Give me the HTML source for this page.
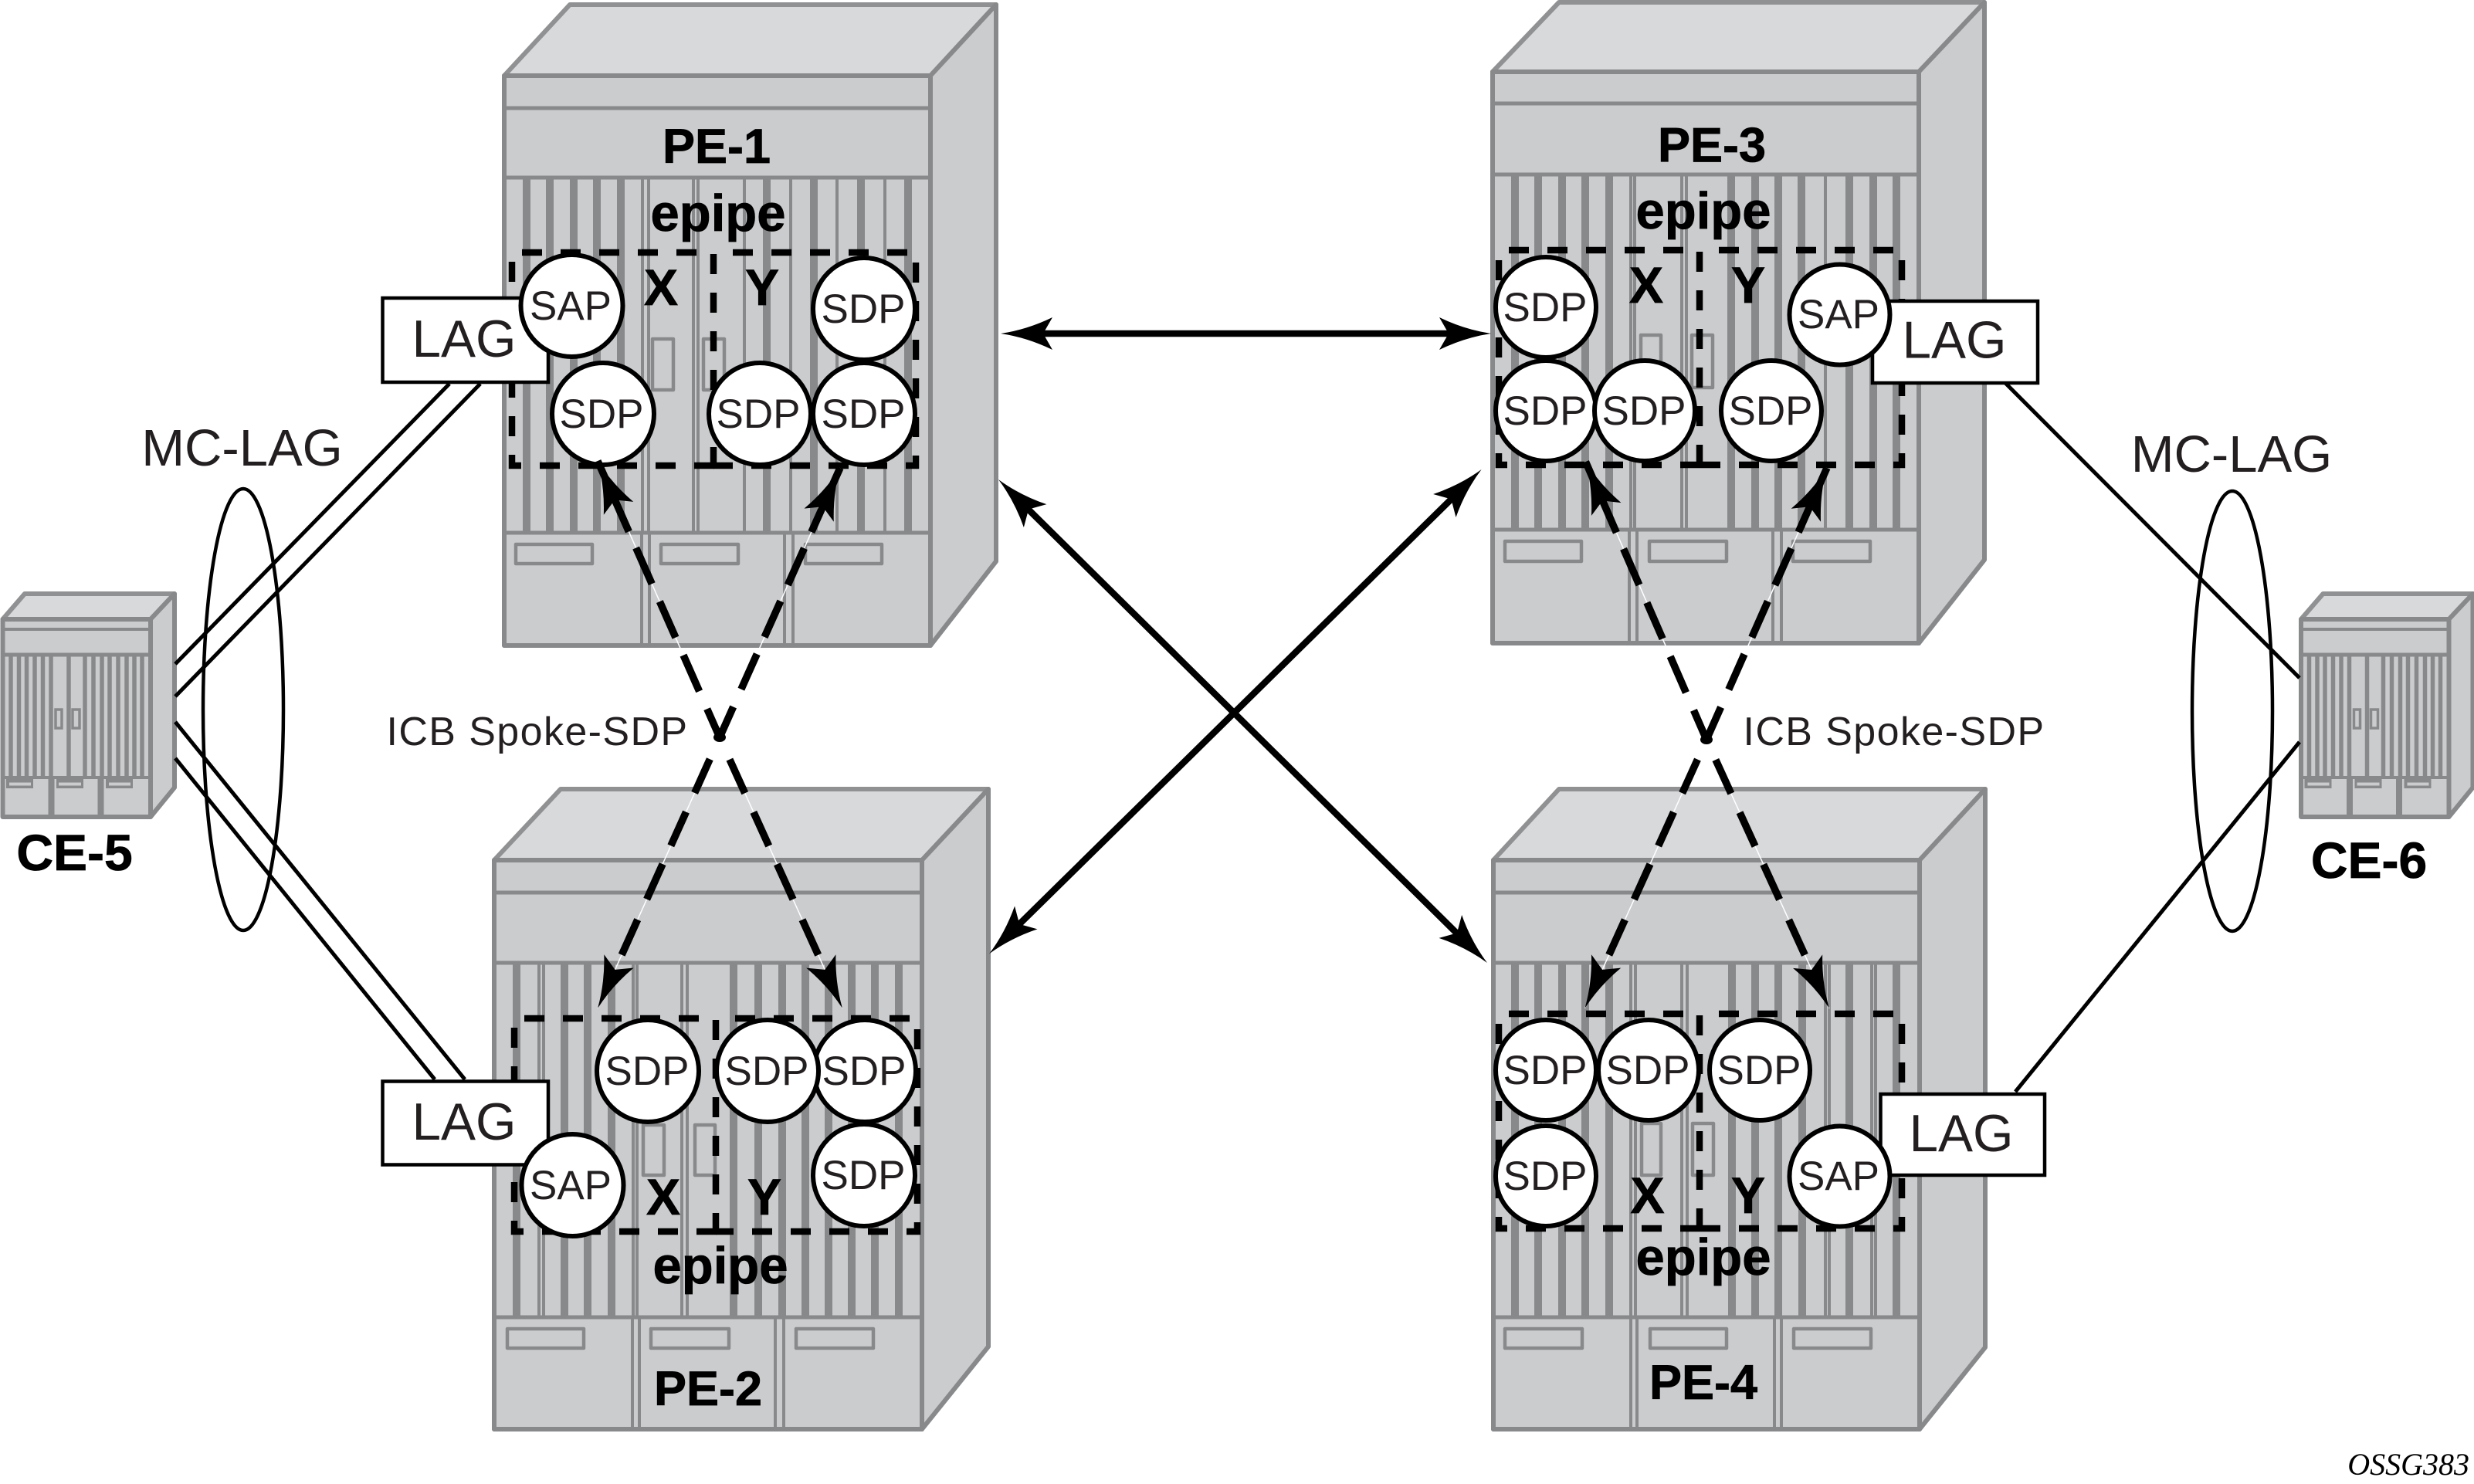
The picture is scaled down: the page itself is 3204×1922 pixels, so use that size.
<!DOCTYPE html>
<html><head><meta charset="utf-8"><title>MC-LAG epipe diagram</title>
<style>
html,body{margin:0;padding:0;background:#fff}
svg{display:block}
.f{fill:#cbccce;stroke:#87898b;stroke-width:6;stroke-linejoin:round}
.r{fill:#d8d9db;stroke:#8f9193;stroke-width:6;stroke-linejoin:round}
.b{stroke:#87898b;stroke-width:5;fill:none}
.t{stroke:#87898b;stroke-width:10;fill:none}
.n{stroke:#87898b;stroke-width:4;fill:none}
.i{stroke:#87898b;stroke-width:4.5;fill:none;stroke-linejoin:round}
.d{stroke:#000;stroke-width:8.5;fill:none;stroke-dasharray:26 24}
.s{stroke:#000;stroke-width:8.5;fill:none}
.o{fill:#fff;stroke:#000;stroke-width:6}
.l{fill:#fff;stroke:#000;stroke-width:4.5}
.w{stroke:#000;stroke-width:5;fill:none}
.e{stroke:#000;stroke-width:4.5;fill:none}
.a{stroke:#000;stroke-width:8.5;fill:none}
.g{stroke:#000;stroke-width:9.5;fill:none}
.hw{stroke:#fff;stroke-width:1.5;fill:none}
text{font-family:"Liberation Sans",sans-serif;fill:#231f20;text-anchor:middle}
.c{font-size:53px}
.lag{font-size:67.5px}
.bd{font-weight:bold;fill:#000;stroke:#000;stroke-width:.8px}
.pe{font-size:63px}
.ep{font-size:67px}
.xy{font-size:66px}
.mc{font-size:67px}
.icb{font-size:52px;letter-spacing:1.4px}
</style></head>
<body>
<svg width="3204" height="1922" viewBox="0 0 3204 1922" xmlns="http://www.w3.org/2000/svg">
<defs>
<path id="h" d="M0 0Q-34-5-67-21L-55 0-67 21Q-34 5 0 0Z" fill="#000"/>
<g id="ce">
<polygon class="r" stroke-width="5" points="3.5,802 32,769 226,769 195,802"/>
<polygon class="f" points="195,802 226,769 226,1020 195,1058"/>
<rect class="f" x="3.5" y="802" width="191.5" height="256"/>
<path class="n" d="M3 815H195"/>
<path class="b" d="M3 848H195"/>
<path stroke="#87898b" stroke-width="5.5" fill="none" d="M14 848V1007M24.5 848V1007M34.5 848V1007M45 848V1007M55.5 848V1007M66 848V1007M89 848V1007M110 848V1007M121 848V1007M132 848V1007M142 848V1007M153 848V1007M164 848V1007M174 848V1007M184 848V1007"/>
<path class="n" d="M3 1007H195"/>
<path stroke="#87898b" stroke-width="8" fill="none" d="M66.5 1007V1058M130.5 1007V1058"/>
<path fill="#87898b" d="M8 1007H43V1021H8ZM73 1007H108V1021H73ZM137 1007H172V1021H137Z"/>
<path fill="#cbccce" d="M12 1013.5H40V1017.5H12ZM76 1013.5H105V1017.5H76ZM141 1013.5H169V1017.5H141Z"/>
<path fill="#cbccce" stroke="#87898b" stroke-width="3.5" d="M72 919H80V943H72ZM94 919H103V943H94Z"/>
</g>
</defs>

<!-- CE devices -->
<use href="#ce"/>
<use href="#ce" transform="translate(2976.5,0)"/>
<text class="bd" x="96.5" y="1127" font-size="66">CE-5</text>
<text class="bd" x="3068" y="1137" font-size="66">CE-6</text>

<!-- PE-1 -->
<polygon class="r" points="653,98 738,6 1290,6 1205,98"/>
<polygon class="f" points="1205,98 1290,6 1290,727 1205,836"/>
<rect class="f" x="653" y="98" width="552" height="738"/>
<path class="b" d="M653 140H1205M653 230H1205"/>
<path class="t" d="M682 230V690M712 230V690M743 230V690M773 230V690M804 230V690M993 230V690M1054 230V690M1115 230V690M1176 230V690"/>
<path class="n" d="M832 230V690M840 230V690M898 230V690M904 230V690M964 230V690M1024 230V690M1084 230V690M1146 230V690"/>
<rect x="653" y="690" width="552" height="146" fill="#cbccce"/>
<path class="b" d="M653 690H1205"/>
<rect class="f" x="653" y="98" width="552" height="738" style="fill:none"/>
<path class="n" d="M831 690V836M841 690V836M1016 690V836M1027 690V836"/>
<rect class="i" x="668" y="705" width="99" height="25"/><rect class="i" x="856" y="705" width="100" height="25"/><rect class="i" x="1043" y="705" width="99" height="25"/>
<rect class="i" x="845" y="439" width="27" height="66"/><rect class="i" x="911" y="439" width="27" height="66"/>
<path class="d" d="M925 603H663V327"/><path class="d" d="M676 327H905"/><path class="d" d="M949 327H1186V603H924"/><path class="d" d="M924 329V604"/>

<!-- PE-2 -->
<polygon class="r" points="640,1114 726,1022 1280,1022 1194,1114"/>
<polygon class="f" points="1194,1114 1280,1022 1280,1744 1194,1851"/>
<rect class="f" x="640" y="1114" width="554" height="737"/>
<path class="b" d="M640 1156H1194M640 1247H1194"/>
<path class="t" d="M669 1247V1706M731 1247V1706M761 1247V1706M792 1247V1706M950 1247V1706M982 1247V1706M1013 1247V1706M1043 1247V1706M1073 1247V1706M1103 1247V1706M1133 1247V1706M1164 1247V1706"/>
<path class="n" d="M698 1247V1706M704 1247V1706M820 1247V1706M825 1247V1706M883 1247V1706M890 1247V1706"/>
<rect x="640" y="1706" width="554" height="145" fill="#cbccce"/>
<path class="b" d="M640 1706H1194"/>
<rect class="f" x="640" y="1114" width="554" height="737" style="fill:none"/>
<path class="n" d="M819 1706V1851M828 1706V1851M1004 1706V1851M1015 1706V1851"/>
<rect class="i" x="657" y="1721" width="99" height="25"/><rect class="i" x="843" y="1721" width="101" height="25"/><rect class="i" x="1031" y="1721" width="100" height="25"/>
<rect class="i" x="833" y="1457" width="27" height="65"/><rect class="i" x="900" y="1457" width="26" height="65"/>
<path class="d" d="M928 1595H666V1319"/><path class="d" d="M679 1319H908"/><path class="d" d="M952 1319H1188V1595H927"/><path class="d" d="M927 1321V1596"/>

<!-- PE-3 -->
<polygon class="r" points="1933,93 2019,3 2570,3 2485,93"/>
<polygon class="f" points="2485,93 2570,3 2570,725 2485,833"/>
<rect class="f" x="1933" y="93" width="552" height="740"/>
<path class="b" d="M1933 134H2485M1933 226H2485"/>
<path class="t" d="M1962 226V686M1992 226V686M2023 226V686M2053 226V686M2084 226V686M2242 226V686M2273 226V686M2303 226V686M2333 226V686M2395 226V686M2426 226V686M2456 226V686"/>
<path class="n" d="M2112 226V686M2117 226V686M2178 226V686M2184 226V686M2364 226V686"/>
<rect x="1933" y="686" width="552" height="147" fill="#cbccce"/>
<path class="b" d="M1933 686H2485"/>
<rect class="f" x="1933" y="93" width="552" height="740" style="fill:none"/>
<path class="n" d="M2110 686V833M2120 686V833M2296 686V833M2307 686V833"/>
<rect class="i" x="1949" y="701" width="99" height="26"/><rect class="i" x="2136" y="701" width="100" height="26"/><rect class="i" x="2322" y="701" width="100" height="26"/>
<rect class="i" x="2125" y="434" width="26" height="68"/><rect class="i" x="2191" y="434" width="27" height="68"/>
<path class="d" d="M2202 602H1941V324"/><path class="d" d="M1954 324H2182"/><path class="d" d="M2226 324H2463V602H2201"/><path class="d" d="M2201 326V603"/>

<!-- PE-4 -->
<polygon class="r" points="1934,1114 2019,1022 2571,1022 2486,1114"/>
<polygon class="f" points="2486,1114 2571,1022 2571,1745 2486,1851"/>
<rect class="f" x="1934" y="1114" width="552" height="737"/>
<path class="b" d="M1934 1156H2486M1934 1247H2486"/>
<path class="t" d="M1962 1247V1706M1992 1247V1706M2023 1247V1706M2053 1247V1706M2084 1247V1706M2243 1247V1706M2273 1247V1706M2303 1247V1706M2334 1247V1706M2395 1247V1706M2456 1247V1706"/>
<path class="n" d="M2112 1247V1706M2118 1247V1706M2178 1247V1706M2185 1247V1706M2364 1247V1706M2369 1247V1706M2424 1247V1706M2429 1247V1706"/>
<rect x="1934" y="1706" width="552" height="145" fill="#cbccce"/>
<path class="b" d="M1934 1706H2486"/>
<rect class="f" x="1934" y="1114" width="552" height="737" style="fill:none"/>
<path class="n" d="M2112 1706V1851M2120 1706V1851M2298 1706V1851M2307 1706V1851"/>
<rect class="i" x="1949" y="1721" width="100" height="25"/><rect class="i" x="2137" y="1721" width="99" height="25"/><rect class="i" x="2323" y="1721" width="100" height="25"/>
<rect class="i" x="2126" y="1455" width="25" height="67"/><rect class="i" x="2192" y="1455" width="27" height="67"/>
<path class="d" d="M2202 1591H1941V1313"/><path class="d" d="M1954 1313H2182"/><path class="d" d="M2226 1313H2463V1591H2201"/><path class="d" d="M2201 1315V1592"/>

<!-- MC-LAG links -->
<path class="w" d="M227 860L582 497M227 902L622 497M227 935L602 1398M227 982L563 1398M2597 496L2978 878M2610 1414L2978 961"/>
<ellipse class="e" cx="315" cy="919" rx="52" ry="286"/>
<ellipse class="e" cx="2891" cy="921" rx="52" ry="285"/>
<text class="mc" x="313.5" y="603">MC-LAG</text>
<text class="mc" x="2890" y="611">MC-LAG</text>

<!-- LAG boxes -->
<rect class="l" x="495.5" y="386" width="214.5" height="109"/>
<rect class="l" x="495.5" y="1400.5" width="214.5" height="108"/>
<rect class="l" x="2425" y="390" width="214" height="106"/>
<rect class="l" x="2435.5" y="1417" width="212.5" height="105"/>
<text class="lag" x="601" y="462">LAG</text>
<text class="lag" x="601" y="1476">LAG</text>
<text class="lag" x="2531" y="463.5">LAG</text>
<text class="lag" x="2540" y="1491">LAG</text>

<!-- Circles PE-1 -->
<circle class="o" cx="740.5" cy="396" r="66"/><text class="c" x="739" y="414">SAP</text>
<circle class="o" cx="781" cy="536" r="66"/><text class="c" x="779" y="554">SDP</text>
<circle class="o" cx="984" cy="536" r="66"/><text class="c" x="982" y="554">SDP</text>
<circle class="o" cx="1119" cy="536" r="66"/><text class="c" x="1118" y="554">SDP</text>
<circle class="o" cx="1119" cy="400" r="66"/><text class="c" x="1118" y="418">SDP</text>
<!-- Circles PE-2 -->
<circle class="o" cx="839" cy="1387" r="66"/><text class="c" x="838" y="1405">SDP</text>
<circle class="o" cx="1120" cy="1387" r="66"/><text class="c" x="1119" y="1405">SDP</text>
<circle class="o" cx="994" cy="1387" r="66"/><text class="c" x="993" y="1405">SDP</text>
<circle class="o" cx="1119" cy="1522" r="66"/><text class="c" x="1118" y="1540">SDP</text>
<circle class="o" cx="741.5" cy="1535" r="66"/><text class="c" x="739" y="1553">SAP</text>
<!-- Circles PE-3 -->
<circle class="o" cx="2002" cy="398" r="65"/><text class="c" x="2001" y="416">SDP</text>
<circle class="o" cx="2002" cy="532" r="65"/><text class="c" x="2001" y="550">SDP</text>
<circle class="o" cx="2130" cy="532" r="65"/><text class="c" x="2129" y="550">SDP</text>
<circle class="o" cx="2294" cy="532" r="65"/><text class="c" x="2293" y="550">SDP</text>
<circle class="o" cx="2382.5" cy="407.5" r="65"/><text class="c" x="2381" y="425">SAP</text>
<!-- Circles PE-4 -->
<circle class="o" cx="2002" cy="1386" r="65"/><text class="c" x="2001" y="1404">SDP</text>
<circle class="o" cx="2135" cy="1386" r="65"/><text class="c" x="2134" y="1404">SDP</text>
<circle class="o" cx="2279" cy="1386" r="65"/><text class="c" x="2278" y="1404">SDP</text>
<circle class="o" cx="2002" cy="1523" r="65"/><text class="c" x="2001" y="1541">SDP</text>
<circle class="o" cx="2382.5" cy="1523.5" r="65"/><text class="c" x="2381" y="1541">SAP</text>

<!-- Labels -->
<text class="bd pe" x="928" y="211">PE-1</text>
<text class="bd pe" x="2217" y="209.5">PE-3</text>
<text class="bd pe" x="917" y="1820">PE-2</text>
<text class="bd pe" x="2206" y="1812">PE-4</text>
<text class="bd ep" x="930" y="299">epipe</text>
<text class="bd ep" x="2206" y="296">epipe</text>
<text class="bd ep" x="933" y="1662">epipe</text>
<text class="bd ep" x="2206" y="1651">epipe</text>
<text class="bd xy" x="856" y="395">X</text><text class="bd xy" x="987" y="395">Y</text>
<text class="bd xy" x="2132" y="392">X</text><text class="bd xy" x="2264" y="392">Y</text>
<text class="bd xy" x="859" y="1573">X</text><text class="bd xy" x="990" y="1573">Y</text>
<text class="bd xy" x="2133.5" y="1571">X</text><text class="bd xy" x="2264" y="1571">Y</text>
<text class="icb" x="696" y="965">ICB Spoke-SDP</text>
<text class="icb" x="2453" y="965">ICB Spoke-SDP</text>
<text x="3198" y="1910" style="font-family:'Liberation Serif',serif;font-style:italic;font-size:40px;text-anchor:end;fill:#000">OSSG383</text>

<!-- Thick double arrows -->
<path class="a" d="M1345 432H1882"/>
<use href="#h" transform="translate(1296,432) rotate(180)"/>
<use href="#h" transform="translate(1931,432)"/>
<path class="a" d="M1330 658L1890 1212"/>
<use href="#h" transform="translate(1293,621) rotate(224.68)"/>
<use href="#h" transform="translate(1926,1247) rotate(44.68)"/>
<path class="a" d="M1318 1199L1882 644"/>
<use href="#h" transform="translate(1281,1235.4) rotate(135.5)"/>
<use href="#h" transform="translate(1918.6,608) rotate(-44.5)"/>

<!-- ICB spoke SDP dashed connectors -->
<path class="hw" d="M774 597L932 955M1088 606L932 955M774 1306L932 955M1091 1306L932 955M2053.5 598L2210 958M2366 606L2210 958M2052.4 1306L2210 958M2369 1306L2210 958"/>
<path class="g" d="M774 597L932 955" stroke-dasharray="100 23 51 25 51 25 51 25 51 25 60"/>
<path class="g" d="M1088 606L932 955" stroke-dasharray="91 23 52 23 51 24 50 25 50"/>
<path class="g" d="M774 1306L932 955" stroke-dasharray="0 76 50 29 50 26 48 27 48 100"/>
<path class="g" d="M1091 1306L932 955" stroke-dasharray="0 76 50 29 50 26 48 27 48 100"/>
<path class="g" d="M2053.5 598L2210 958" stroke-dasharray="100 23 51 25 51 25 51 25 51 25 60"/>
<path class="g" d="M2366 606L2210 958" stroke-dasharray="91 23 52 23 51 24 50 25 50"/>
<path class="g" d="M2052.4 1306L2210 958" stroke-dasharray="0 76 50 29 50 26 48 27 48 100"/>
<path class="g" d="M2369 1306L2210 958" stroke-dasharray="0 76 50 29 50 26 48 27 48 100"/>
<use href="#h" transform="translate(774,597) rotate(246.2)"/>
<use href="#h" transform="translate(1088,606) rotate(-65.9)"/>
<use href="#h" transform="translate(774,1306) rotate(114.2)"/>
<use href="#h" transform="translate(1091,1306) rotate(65.6)"/>
<use href="#h" transform="translate(2053.5,598) rotate(246.5)"/>
<use href="#h" transform="translate(2366,606) rotate(-66.1)"/>
<use href="#h" transform="translate(2052.4,1306) rotate(114.4)"/>
<use href="#h" transform="translate(2369,1306) rotate(65.4)"/>
<ellipse cx="932" cy="955" rx="8" ry="6" fill="#000"/>
<ellipse cx="2210" cy="958" rx="8" ry="6" fill="#000"/>
</svg>
</body></html>
